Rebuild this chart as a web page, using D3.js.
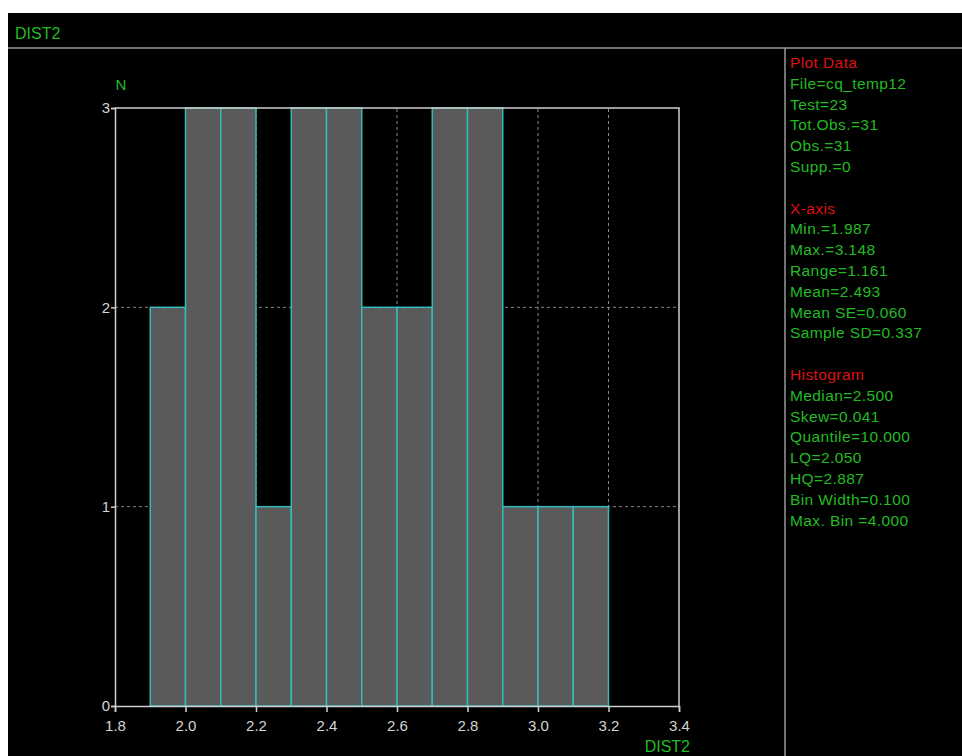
<!doctype html>
<html>
<head>
    <script src="https://d3js.org/d3.v7.min.js"></script>
    <style>
        body { margin: 0; background: #fff; }
        svg text { font-family: "Liberation Sans", Arial, sans-serif; }
        .tick text { fill: #d4d4d4; font-size: 15px; }
    </style>
</head>
<body>
<script>
    // histogram bins (left edge) and counts
    let binStarts = [1.9, 2.0, 2.1, 2.2, 2.3, 2.4, 2.5, 2.6, 2.7, 2.8, 2.9, 3.0, 3.1];
    let counts = [2, 3, 3, 1, 3, 3, 2, 2, 3, 3, 1, 1, 1];
    let binWidth = 0.1;
    let xTicks = [1.8, 2.0, 2.2, 2.4, 2.6, 2.8, 3.0, 3.2, 3.4];
    let yTicks = [0, 1, 2, 3];

    let panelHeads = ["Plot Data", "X-axis", "Histogram"];
    let panelLines = [
        ["Plot Data", "File=cq_temp12", "Test=23", "Tot.Obs.=31", "Obs.=31", "Supp.=0"],
        ["X-axis", "Min.=1.987", "Max.=3.148", "Range=1.161", "Mean=2.493", "Mean SE=0.060", "Sample SD=0.337"],
        ["Histogram", "Median=2.500", "Skew=0.041", "Quantile=10.000", "LQ=2.050", "HQ=2.887", "Bin Width=0.100", "Max. Bin =4.000"]
    ];

    let W = 962, H = 756;
    let green = "#22bb22", red = "#dd1111", grey = "#cfcfcf";

    let svg = d3.select("body").append("svg")
        .attr("width", W).attr("height", H);

    svg.append("rect").attr("x", 8).attr("y", 13).attr("width", W - 8).attr("height", H - 13).attr("fill", "#000");
    svg.append("line").attr("x1", 8).attr("x2", W).attr("y1", 48).attr("y2", 48).attr("stroke", "#999").attr("stroke-width", 1.5);
    svg.append("line").attr("x1", 785).attr("x2", 785).attr("y1", 48).attr("y2", H).attr("stroke", "#999").attr("stroke-width", 1.5);
    svg.append("text").attr("x", 15).attr("y", 39).attr("fill", green).attr("font-size", 16).text("DIST2");

    let x = d3.scaleLinear().domain([1.8, 3.4]).range([115, 679]);
    let y = d3.scaleLinear().domain([0, 3]).range([706, 108]);

    // dashed grid
    svg.append("g").selectAll("line").data(yTicks.slice(1, -1)).enter().append("line")
        .attr("x1", x(1.8)).attr("x2", x(3.4)).attr("y1", d => y(d)).attr("y2", d => y(d))
        .attr("stroke", "#888").attr("stroke-dasharray", "3,3");
    svg.append("g").selectAll("line").data(xTicks.slice(1, -1)).enter().append("line")
        .attr("x1", d => x(d)).attr("x2", d => x(d)).attr("y1", y(0)).attr("y2", y(3))
        .attr("stroke", "#888").attr("stroke-dasharray", "3,3");

    // bars
    svg.append("g").selectAll("rect").data(binStarts).enter().append("rect")
        .attr("x", d => x(d))
        .attr("y", (d, i) => y(counts[i]))
        .attr("width", d => x(d + binWidth) - x(d))
        .attr("height", (d, i) => y(0) - y(counts[i]))
        .attr("fill", "#5a5a5a")
        .attr("stroke", "#33bbbb")
        .attr("stroke-width", 1.5);

    // frame top/right
    svg.append("path")
        .attr("d", `M${x(1.8)},${y(3)}H${x(3.4)}V${y(0)}`)
        .attr("fill", "none").attr("stroke", grey).attr("stroke-width", 1.5);

    let xAxis = svg.append("g").attr("transform", `translate(0,${y(0)})`)
        .call(d3.axisBottom(x).tickValues(xTicks).tickFormat(d3.format(".1f")).tickSize(6).tickPadding(8));
    let yAxis = svg.append("g").attr("transform", `translate(${x(1.8)},0)`)
        .call(d3.axisLeft(y).tickValues(yTicks).tickFormat(d3.format("d")).tickSize(4).tickPadding(1));
    [xAxis, yAxis].forEach(a => {
        a.select(".domain").attr("stroke", grey).attr("stroke-width", 1.5);
        a.selectAll(".tick line").attr("stroke", grey).attr("stroke-width", 1.5);
    });

    svg.append("text").attr("x", 121).attr("y", 90).attr("fill", green).attr("font-size", 15)
        .attr("text-anchor", "middle").text("N");
    svg.append("text").attr("x", 690).attr("y", 752).attr("fill", green).attr("font-size", 16)
        .attr("text-anchor", "end").text("DIST2");

    // info panel
    let lineH = 20.8;
    let row = 0;
    let panel = svg.append("g");
    panelLines.forEach(block => {
        block.forEach(t => {
            panel.append("text")
                .attr("x", 790).attr("y", 68 + row * lineH)
                .attr("fill", panelHeads.includes(t) ? red : green)
                .attr("font-size", 15.5)
                .attr("letter-spacing", 0.4)
                .text(t);
            row++;
        });
        row++;
    });
</script>
</body>
</html>
